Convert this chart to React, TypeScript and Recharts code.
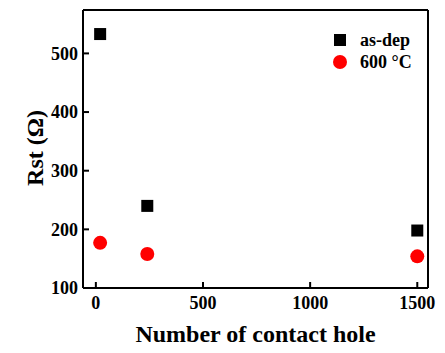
import { ScatterChart, Scatter, XAxis, YAxis } from 'recharts';

const holeCounts = [20, 240, 1500];
const asDep = [533, 240, 198];
const annealed600 = [177, 158, 154];
const xTicks = [0, 500, 1000, 1500];
const yTicks = [100, 200, 300, 400, 500];

const asDepData = holeCounts.map((x, i) => ({ x, y: asDep[i] }));
const annealedData = holeCounts.map((x, i) => ({ x, y: annealed600[i] }));

const FONT = '"Liberation Serif", "Times New Roman", serif';
const tickStyle = { fontSize: 18, fontWeight: 'bold', fill: '#000', fontFamily: FONT };
const titleStyle = { fontSize: 24, fontWeight: 'bold', fill: '#000', fontFamily: FONT };
const axisStroke = { stroke: '#000', strokeWidth: 2 };

const SquareDot = (props: any) => (
  <rect x={props.cx - 6} y={props.cy - 6} width={12} height={12} fill="#000" />
);
const RedDot = (props: any) => <circle cx={props.cx} cy={props.cy} r={7} fill="#f00" />;

function LegendBox() {
  const items = [
    { label: 'as-dep', kind: 'square' },
    { label: '600 °C', kind: 'circle' },
  ];
  return (
    <div
      style={{
        position: 'absolute',
        left: 333,
        top: 29,
        fontFamily: FONT,
        fontWeight: 'bold',
        fontSize: 18,
        color: '#000',
      }}
    >
      {items.map((it) => (
        <div key={it.label} style={{ display: 'flex', alignItems: 'center', height: 22 }}>
          <svg width={14} height={14} style={{ marginRight: 13 }}>
            {it.kind === 'square' ? (
              <rect x={1} y={1} width={12} height={12} fill="#000" />
            ) : (
              <circle cx={7} cy={7} r={7} fill="#f00" />
            )}
          </svg>
          <span>{it.label}</span>
        </div>
      ))}
    </div>
  );
}

export default function App() {
  return (
    <div style={{ position: 'absolute', left: 0, top: 0, width: 445, height: 353, background: '#fff' }}>
      <ScatterChart width={445} height={353} margin={{ top: 9, right: 16, bottom: 0, left: 0 }}>
        <XAxis
          xAxisId="b"
          type="number"
          dataKey="x"
          domain={[-60, 1550]}
          ticks={xTicks}
          allowDataOverflow
          height={65}
          tickSize={-6}
          tickMargin={14}
          tick={tickStyle}
          axisLine={axisStroke}
          tickLine={axisStroke}
          label={{
            value: 'Number of contact hole',
            position: 'insideBottom',
            offset: 11,
            style: titleStyle,
          }}
        />
        <XAxis
          xAxisId="t"
          orientation="top"
          type="number"
          dataKey="x"
          domain={[-60, 1550]}
          ticks={xTicks}
          allowDataOverflow
          height={1}
          tickSize={-6}
          tick={false}
          axisLine={axisStroke}
          tickLine={axisStroke}
        />
        <YAxis
          yAxisId="l"
          type="number"
          dataKey="y"
          domain={[100, 574]}
          ticks={yTicks}
          allowDataOverflow
          width={83}
          tickSize={-6}
          tickMargin={11}
          tick={tickStyle}
          axisLine={axisStroke}
          tickLine={axisStroke}
          label={{
            value: 'Rst (Ω)',
            angle: -90,
            position: 'center',
            dx: -7,
            dy: -1,
            style: { ...titleStyle, textAnchor: 'middle' },
          }}
        />
        <YAxis
          yAxisId="r"
          orientation="right"
          type="number"
          dataKey="y"
          domain={[100, 574]}
          ticks={yTicks}
          allowDataOverflow
          width={1}
          tickSize={-6}
          tick={false}
          axisLine={axisStroke}
          tickLine={axisStroke}
        />
        <Scatter
          name="as-dep"
          data={asDepData}
          xAxisId="b"
          yAxisId="l"
          shape={SquareDot}
          isAnimationActive={false}
        />
        <Scatter
          name="600 °C"
          data={annealedData}
          xAxisId="t"
          yAxisId="r"
          shape={RedDot}
          isAnimationActive={false}
        />
      </ScatterChart>
      <LegendBox />
    </div>
  );
}
